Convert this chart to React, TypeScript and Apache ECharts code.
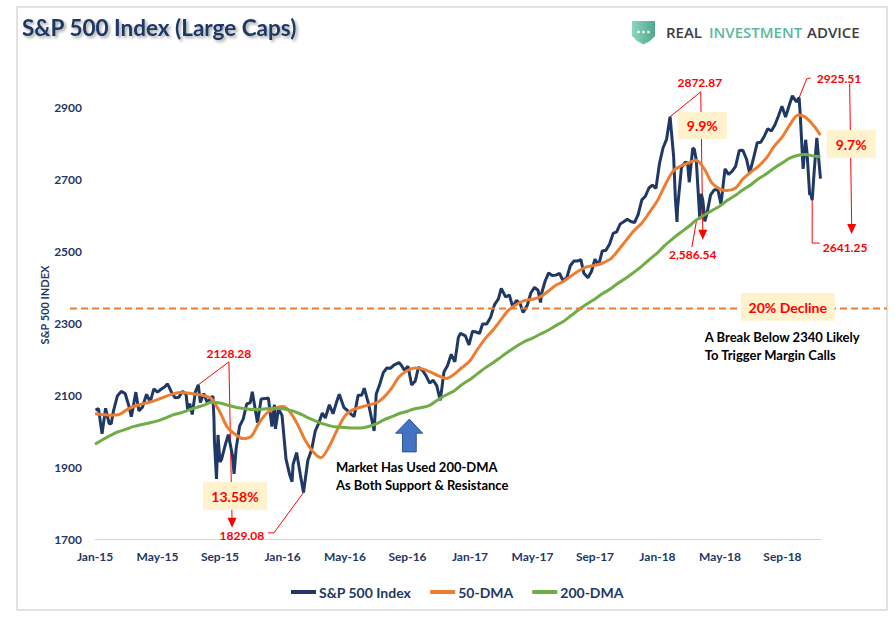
import React, { useEffect, useRef } from "react";
import * as echarts from "echarts";

// ---------- DATA ----------
const sp2015: [string, number][] = [
  ["2015-01-02", 2058], ["2015-01-08", 2062], ["2015-01-15", 1992], ["2015-01-22", 2063], ["2015-01-29", 2021],
  ["2015-02-02", 2020], ["2015-02-06", 2055], ["2015-02-13", 2097], ["2015-02-20", 2110], ["2015-02-27", 2104],
  ["2015-03-06", 2071], ["2015-03-11", 2040], ["2015-03-13", 2053], ["2015-03-20", 2108], ["2015-03-26", 2056],
  ["2015-04-02", 2066], ["2015-04-10", 2102], ["2015-04-17", 2081], ["2015-04-24", 2117], ["2015-05-01", 2108],
  ["2015-05-08", 2116], ["2015-05-15", 2122], ["2015-05-21", 2131], ["2015-05-29", 2107], ["2015-06-05", 2092],
  ["2015-06-12", 2094], ["2015-06-19", 2110], ["2015-06-26", 2101], ["2015-06-29", 2058], ["2015-07-03", 2076],
  ["2015-07-08", 2046], ["2015-07-14", 2108], ["2015-07-20", 2128], ["2015-07-24", 2079], ["2015-07-31", 2104],
  ["2015-08-07", 2078], ["2015-08-14", 2092], ["2015-08-18", 2097], ["2015-08-20", 2035], ["2015-08-21", 1971],
  ["2015-08-25", 1867], ["2015-08-28", 1989], ["2015-09-01", 1914], ["2015-09-04", 1921], ["2015-09-11", 1961],
  ["2015-09-17", 1990], ["2015-09-25", 1932], ["2015-09-28", 1881], ["2015-10-02", 1951], ["2015-10-09", 2014],
  ["2015-10-16", 2033], ["2015-10-23", 2075], ["2015-10-30", 2079], ["2015-11-03", 2109], ["2015-11-13", 2023],
  ["2015-11-20", 2089], ["2015-11-27", 2090], ["2015-12-04", 2092], ["2015-12-11", 2012], ["2015-12-16", 2073],
  ["2015-12-18", 2006], ["2015-12-24", 2061], ["2015-12-31", 2044],
];
const sp2016: [string, number][] = [
  ["2016-01-08", 1922], ["2016-01-15", 1880], ["2016-01-20", 1859], ["2016-01-22", 1907], ["2016-01-29", 1940],
  ["2016-02-05", 1880], ["2016-02-11", 1829], ["2016-02-19", 1918], ["2016-02-26", 1948], ["2016-03-04", 2000],
  ["2016-03-11", 2022], ["2016-03-18", 2050], ["2016-03-24", 2036], ["2016-04-01", 2073], ["2016-04-08", 2048],
  ["2016-04-15", 2081], ["2016-04-20", 2102], ["2016-04-29", 2065], ["2016-05-06", 2057], ["2016-05-13", 2047],
  ["2016-05-19", 2040], ["2016-05-27", 2099], ["2016-06-03", 2099], ["2016-06-08", 2119], ["2016-06-16", 2077],
  ["2016-06-27", 2000], ["2016-07-01", 2103], ["2016-07-08", 2130], ["2016-07-15", 2162], ["2016-07-22", 2175],
  ["2016-07-29", 2174], ["2016-08-05", 2183], ["2016-08-15", 2190], ["2016-08-19", 2184], ["2016-08-26", 2169],
  ["2016-09-02", 2180], ["2016-09-09", 2128], ["2016-09-16", 2139], ["2016-09-22", 2177], ["2016-09-30", 2168],
  ["2016-10-07", 2153], ["2016-10-14", 2133], ["2016-10-21", 2141], ["2016-10-28", 2126], ["2016-11-04", 2085],
  ["2016-11-11", 2164], ["2016-11-18", 2182], ["2016-11-25", 2213], ["2016-12-02", 2192], ["2016-12-09", 2260],
  ["2016-12-13", 2271], ["2016-12-23", 2264], ["2016-12-30", 2239],
];
const sp2017: [string, number][] = [
  ["2017-01-06", 2277], ["2017-01-13", 2275], ["2017-01-20", 2271], ["2017-01-26", 2297], ["2017-02-03", 2297],
  ["2017-02-10", 2316], ["2017-02-17", 2351], ["2017-02-24", 2367], ["2017-03-01", 2396], ["2017-03-10", 2372],
  ["2017-03-17", 2378], ["2017-03-24", 2344], ["2017-03-31", 2363], ["2017-04-07", 2355], ["2017-04-13", 2329],
  ["2017-04-21", 2349], ["2017-04-28", 2384], ["2017-05-05", 2399], ["2017-05-12", 2391], ["2017-05-17", 2357],
  ["2017-05-19", 2382], ["2017-05-26", 2416], ["2017-06-02", 2439], ["2017-06-09", 2432], ["2017-06-16", 2433],
  ["2017-06-23", 2438], ["2017-06-29", 2419], ["2017-07-07", 2425], ["2017-07-14", 2459], ["2017-07-21", 2472],
  ["2017-07-28", 2472], ["2017-08-04", 2476], ["2017-08-10", 2438], ["2017-08-18", 2426], ["2017-08-25", 2443],
  ["2017-09-01", 2477], ["2017-09-08", 2461], ["2017-09-15", 2500], ["2017-09-22", 2502], ["2017-09-29", 2519],
  ["2017-10-06", 2549], ["2017-10-13", 2553], ["2017-10-20", 2575], ["2017-10-27", 2581], ["2017-11-03", 2588],
  ["2017-11-10", 2582], ["2017-11-17", 2579], ["2017-11-24", 2602], ["2017-12-01", 2642], ["2017-12-08", 2652],
  ["2017-12-15", 2675], ["2017-12-22", 2683], ["2017-12-29", 2674],
];
const sp2018: [string, number][] = [
  ["2018-01-05", 2743], ["2018-01-12", 2786], ["2018-01-19", 2810], ["2018-01-26", 2873], ["2018-02-02", 2762],
  ["2018-02-05", 2649], ["2018-02-08", 2581], ["2018-02-09", 2620], ["2018-02-16", 2732], ["2018-02-23", 2747],
  ["2018-02-27", 2744], ["2018-03-02", 2691], ["2018-03-09", 2786], ["2018-03-12", 2783], ["2018-03-16", 2752],
  ["2018-03-23", 2588], ["2018-03-26", 2659], ["2018-03-29", 2641], ["2018-04-02", 2582], ["2018-04-06", 2604],
  ["2018-04-13", 2656], ["2018-04-20", 2670], ["2018-04-27", 2670], ["2018-05-03", 2630], ["2018-05-11", 2728],
  ["2018-05-18", 2713], ["2018-05-25", 2721], ["2018-06-01", 2735], ["2018-06-08", 2779], ["2018-06-15", 2780],
  ["2018-06-22", 2755], ["2018-06-28", 2716], ["2018-07-06", 2760], ["2018-07-13", 2801], ["2018-07-20", 2802],
  ["2018-07-27", 2819], ["2018-08-03", 2840], ["2018-08-10", 2833], ["2018-08-17", 2850], ["2018-08-24", 2875],
  ["2018-08-31", 2902], ["2018-09-07", 2872], ["2018-09-14", 2905], ["2018-09-20", 2931], ["2018-09-28", 2914],
  ["2018-10-03", 2926], ["2018-10-05", 2885], ["2018-10-11", 2728], ["2018-10-16", 2809], ["2018-10-19", 2768],
  ["2018-10-24", 2656], ["2018-10-26", 2659], ["2018-10-29", 2641], ["2018-11-02", 2723], ["2018-11-07", 2814],
  ["2018-11-09", 2781], ["2018-11-14", 2701],
];

// moving averages sampled on the 1st and 15th of each month
const ma50_2015 = [2048, 2046, 2044, 2045, 2058, 2068, 2075, 2080, 2087, 2095, 2103, 2107, 2105, 2102, 2098, 2090, 2052, 2011, 1990, 1979, 1985, 2020, 2050, 2062];
const ma50_2016 = [2068, 2055, 2015, 1972, 1940, 1926, 1958, 2000, 2042, 2058, 2066, 2072, 2078, 2092, 2120, 2150, 2168, 2175, 2172, 2164, 2153, 2146, 2158, 2175];
const ma50_2017 = [2195, 2225, 2258, 2282, 2310, 2335, 2352, 2362, 2366, 2372, 2388, 2404, 2416, 2430, 2446, 2456, 2460, 2466, 2478, 2500, 2530, 2555, 2578, 2605];
const ma50_2018 = [2640, 2680, 2722, 2736, 2745, 2752, 2728, 2690, 2672, 2668, 2675, 2700, 2720, 2735, 2760, 2790, 2818, 2850, 2878, 2872, 2848];
const ma200_2015 = [1963, 1975, 1988, 1998, 2005, 2012, 2018, 2022, 2028, 2035, 2045, 2050, 2058, 2065, 2072, 2080, 2078, 2072, 2066, 2063, 2060, 2060, 2062, 2063];
const ma200_2016 = [2062, 2058, 2050, 2040, 2030, 2022, 2015, 2011, 2010, 2008, 2008, 2012, 2020, 2030, 2040, 2048, 2055, 2062, 2066, 2072, 2088, 2100, 2112, 2128];
const ma200_2017 = [2143, 2158, 2176, 2190, 2206, 2220, 2236, 2248, 2258, 2268, 2280, 2292, 2305, 2320, 2338, 2352, 2367, 2381, 2395, 2410, 2425, 2440, 2458, 2475];
const ma200_2018 = [2495, 2515, 2535, 2552, 2568, 2585, 2600, 2612, 2625, 2640, 2655, 2670, 2685, 2700, 2715, 2730, 2745, 2758, 2766, 2768, 2764];
const maLast: [string, number, number] = ["2018-11-14", 2822, 2762];

const monthNames = ["Jan", "Feb", "Mar", "Apr", "May", "Jun", "Jul", "Aug", "Sep", "Oct", "Nov", "Dec"];
const yMin = 1700, yMax = 3000, yStep = 200;
const xStepMonths = 4;
const declineLevel = 2340;

const NAVY = "#1F3864", ORANGE = "#ED7D31", GREEN = "#70AD47", RED = "#FF0000", BEIGE = "#FFF2CC";
const FONT = "Lato";

// month index since Jan 2015 (fractional)
const toM = (d: string) => {
  const [y, m, dd] = d.split("-").map(Number);
  const dim = new Date(y, m, 0).getDate();
  return (y - 2015) * 12 + (m - 1) + (dd - 1) / dim;
};

const buildMA = (years: number[][], last: number) => {
  const out: number[][] = [];
  years.forEach((arr, yi) => {
    arr.forEach((v, i) => {
      const month = Math.floor(i / 2) + 1;
      const day = i % 2 === 0 ? 1 : 15;
      const d = `${2015 + yi}-${String(month).padStart(2, "0")}-${String(day).padStart(2, "0")}`;
      out.push([toM(d), v]);
    });
  });
  out.push([toM(maLast[0]), last]);
  return out;
};

export default function App() {
  const ref = useRef<HTMLDivElement>(null);
  useEffect(() => {
    const chart = echarts.init(ref.current!, null, { renderer: "svg" });
    const spData = [...sp2015, ...sp2016, ...sp2017, ...sp2018].map(([d, v]) => [toM(d), v]);
    const ma50Data = buildMA([ma50_2015, ma50_2016, ma50_2017, ma50_2018], maLast[1]);
    const ma200Data = buildMA([ma200_2015, ma200_2016, ma200_2017, ma200_2018], maLast[2]);
    const xMax = toM("2018-11-15");

    chart.setOption({
      animation: false,
      backgroundColor: "#ffffff",
      grid: { left: 95, right: 74, top: 71, bottom: 78 },
      xAxis: {
        type: "value",
        min: 0,
        max: xMax,
        interval: xStepMonths,
        axisLine: { show: true, lineStyle: { color: "#D9D9D9", width: 1 } },
        axisTick: { show: false },
        splitLine: { show: false },
        axisLabel: {
          showMaxLabel: false,
          margin: 11,
          color: NAVY,
          fontFamily: FONT,
          fontWeight: "bold",
          fontSize: 12,
          formatter: (v: number) => {
            const idx = Math.round(v);
            return `${monthNames[idx % 12]}-${15 + Math.floor(idx / 12)}`;
          },
        },
      },
      yAxis: {
        type: "value",
        min: yMin,
        max: yMax,
        interval: yStep,
        axisLine: { show: false },
        axisTick: { show: false },
        splitLine: { show: false },
        axisLabel: {
          showMaxLabel: false,
          margin: 13,
          color: NAVY,
          fontFamily: FONT,
          fontWeight: "bold",
          fontSize: 12,
          formatter: (v: number) => String(v),
        },
      },
      legend: {
        left: 286,
        top: 580,
        icon: "rect",
        itemWidth: 25,
        itemHeight: 4,
        itemGap: 19,
        textStyle: { color: NAVY, fontFamily: FONT, fontWeight: "bold", fontSize: 14, padding: [0, 0, 0, -2] },
        data: ["S&P 500 Index", "50-DMA", "200-DMA"],
      },
      series: [
        { name: "S&P 500 Index", type: "line", data: spData, showSymbol: false, lineStyle: { color: NAVY, width: 3 }, itemStyle: { color: NAVY } },
        { name: "50-DMA", type: "line", data: ma50Data, smooth: 0.3, showSymbol: false, lineStyle: { color: ORANGE, width: 3 }, itemStyle: { color: ORANGE } },
        { name: "200-DMA", type: "line", data: ma200Data, smooth: 0.3, showSymbol: false, lineStyle: { color: GREEN, width: 3 }, itemStyle: { color: GREEN } },
      ],
    });

    const P = (m: number, v: number) => chart.convertToPixel({ xAxisIndex: 0, yAxisIndex: 0 }, [m, v]) as number[];
    const redLine = (pts: number[][]) => ({ type: "polyline", silent: true, shape: { points: pts }, style: { stroke: RED, lineWidth: 1, fill: null } });
    const arrowHead = (tip: number[], color = RED) => ({
      type: "polygon", silent: true,
      shape: { points: [[tip[0], tip[1]], [tip[0] - 4.5, tip[1] - 10], [tip[0] + 4.5, tip[1] - 10]] },
      style: { fill: color },
    });
    const txt = (t: string, p: number[], size: number, color: string, align = "center", extra: any = {}) => ({
      type: "text", silent: true, z: 100,
      style: {
        text: t, x: p[0], y: p[1], fill: color,
        font: `bold ${size}px ${FONT}`,
        fontFamily: FONT, fontSize: size, fontWeight: "bold",
        align, textAlign: align, verticalAlign: "middle", textVerticalAlign: "middle",
        ...extra,
      },
    });
    const box = (p1: number[], p2: number[]) => ({
      type: "rect", silent: true, z: 90,
      shape: { x: p1[0], y: p1[1], width: p2[0] - p1[0], height: p2[1] - p1[1] },
      style: { fill: BEIGE },
    });

    // Annotation 1: 2015 decline
    const a1Peak = P(toM("2015-07-20"), 2128.28);
    const a1Elbow = P(8.57, 2192);
    const a1Tip = P(8.77, 1731);
    const a1Low = P(toM("2016-02-11"), 1829.08);
    // Annotation 2: Jan 2018 decline
    const a2Peak = P(toM("2018-01-26"), 2872.87);
    const a2Elbow = P(38.77, 2942);
    const a2Tip = P(38.9, 2531);
    // Annotation 3: Oct 2018 decline
    const a3Peak = P(toM("2018-10-03"), 2925.51);
    const a3Low = P(toM("2018-10-29"), 2641.25);
    const a3Top = P(48.3, 2964);
    const a3Tip = P(48.43, 2547);
    const dashY = P(0, declineLevel)[1];

    const shaftL = P(19.68, 0)[0], shaftR = P(20.56, 0)[0];
    const headL = P(19.24, 0)[0], headR = P(20.97, 0)[0], midX = P(20.12, 0)[0];
    const aTop = P(0, 2033)[1], aBase = P(0, 1994)[1], aBot = P(0, 1942)[1];

    const logoFont = (s: string, x: number, color: string) =>
      txt(s, [x, 32], 15, color, "left", { font: "600 15px 'Open Sans'", fontFamily: "Open Sans", fontWeight: 600, fontSize: 15 });

    const graphics: any[] = [
      // outer border
      { type: "rect", silent: true, z: 1, shape: { x: 17, y: 7, width: 870, height: 603 }, style: { fill: null, stroke: "#D9D9D9", lineWidth: 1.5 } },
      // title
      {
        type: "text", silent: true, z: 100,
        style: {
          text: "S&P 500 Index (Large Caps)", x: 22, y: 27, fill: NAVY,
          font: `bold 22.5px ${FONT}`, fontFamily: FONT, fontSize: 22.5, fontWeight: "bold",
          align: "left", textAlign: "left", verticalAlign: "middle", textVerticalAlign: "middle",
          textShadowColor: "rgba(0,0,0,0.35)", textShadowBlur: 3, textShadowOffsetX: 2, textShadowOffsetY: 2,
        },
      },
      // logo shield
      {
        type: "polygon", silent: true,
        shape: { points: [[632, 21], [655, 21], [655, 36], [650, 41], [643.5, 44.5], [637, 41], [632, 36]] },
        style: { fill: new echarts.graphic.LinearGradient(0, 0, 1, 0, [{ offset: 0, color: "#8DD5BF" }, { offset: 1, color: "#4FA88D" }]) },
      },
      { type: "circle", silent: true, shape: { cx: 638.5, cy: 32, r: 1.3 }, style: { fill: "#fff" } },
      { type: "circle", silent: true, shape: { cx: 643.5, cy: 32, r: 1.3 }, style: { fill: "#fff" } },
      { type: "circle", silent: true, shape: { cx: 648.5, cy: 32, r: 1.3 }, style: { fill: "#fff" } },
      logoFont("REAL", 666, "#3D3D3D"),
      logoFont("INVESTMENT", 709, "#5BB8A0"),
      logoFont("ADVICE", 807, "#3D3D3D"),
      // y axis title
      {
        type: "text", silent: true, z: 100, x: 44, y: 305, rotation: Math.PI / 2,
        style: {
          text: "S&P 500 INDEX", x: 0, y: 0, fill: NAVY,
          font: `bold 11px ${FONT}`, fontFamily: FONT, fontSize: 11, fontWeight: "bold",
          align: "center", textAlign: "center", verticalAlign: "middle", textVerticalAlign: "middle",
        },
      },
      // 20% decline dashed line
      { type: "line", silent: true, z: 50, shape: { x1: 70, y1: dashY, x2: 887, y2: dashY }, style: { stroke: ORANGE, lineWidth: 2, lineDash: [7, 4] } },
      box(P(41.33, 2383), P(47.34, 2306)),
      txt("20% Decline", P(44.34, 2344), 14, RED),
      txt("A Break Below 2340 Likely\nTo Trigger Margin Calls", P(39.03, 2236), 13, "#000000", "left", { lineHeight: 18 }),

      // annotation 1
      redLine([a1Peak, a1Elbow]),
      redLine([a1Elbow, [a1Tip[0], a1Tip[1] - 9]]),
      arrowHead(a1Tip),
      txt("2128.28", P(8.57, 2214), 12, RED),
      box(P(6.91, 1858), P(11.0, 1781)),
      txt("13.58%", P(8.96, 1819), 14, RED),
      txt("1829.08", P(9.4, 1711), 12, RED),
      redLine([P(11.07, 1717), P(11.45, 1717), a1Low]),

      // annotation 2
      redLine([a2Peak, a2Elbow]),
      redLine([a2Elbow, [a2Tip[0], a2Tip[1] - 9]]),
      arrowHead(a2Tip),
      txt("2872.87", P(38.71, 2967), 12, RED),
      box(P(37.3, 2886), P(40.43, 2811)),
      txt("9.9%", P(38.87, 2848), 14, RED),
      txt("2,586.54", P(38.26, 2489), 12, RED),
      redLine([P(38.2, 2511), P(38.52, 2589)]),

      // annotation 3
      redLine([a3Peak, P(45.55, 2978), P(45.8, 2981)]),
      txt("2925.51", P(46.19, 2978), 12, RED, "left"),
      redLine([a3Top, [a3Tip[0], a3Tip[1] - 9]]),
      arrowHead(a3Tip),
      box(P(46.83, 2836), P(49.97, 2758)),
      txt("9.7%", P(48.4, 2797), 14, RED),
      redLine([a3Low, P(45.9, 2522), P(46.39, 2522)]),
      txt("2641.25", P(46.58, 2511), 12, RED, "left"),

      // market text
      txt("Market Has Used 200-DMA\nAs Both Support & Resistance", P(15.42, 1875), 13, "#000000", "left", { lineHeight: 18 }),
      // blue arrow
      {
        type: "polygon", silent: true, z: 60,
        shape: { points: [[midX, aTop], [headR, aBase], [shaftR, aBase], [shaftR, aBot], [shaftL, aBot], [shaftL, aBase], [headL, aBase]] },
        style: { fill: "#4472C4", stroke: "#2F528F", lineWidth: 1 },
      },
    ];
    chart.setOption({ graphic: graphics });
    return () => chart.dispose();
  }, []);
  return <div ref={ref} style={{ position: "absolute", left: 0, top: 0, width: 895, height: 617, background: "#fff" }} />;
}
